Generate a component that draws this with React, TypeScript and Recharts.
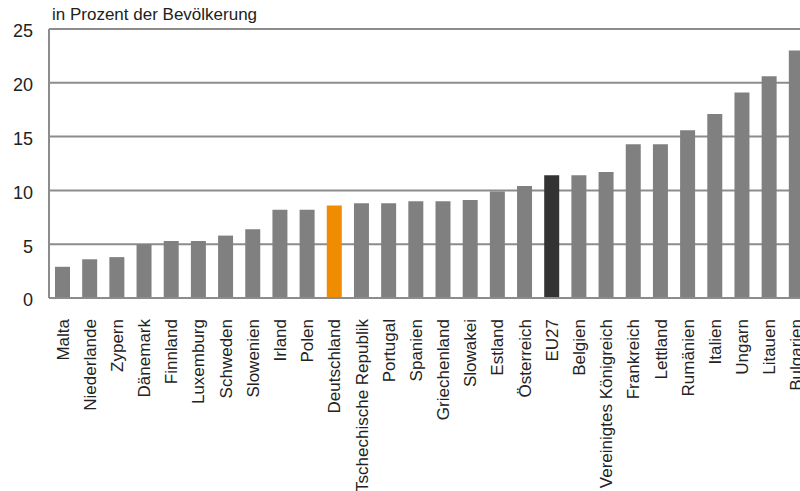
import React from "react";
import { BarChart, Bar, XAxis, YAxis, CartesianGrid, Cell } from "recharts";

const categories = [
  "Malta", "Niederlande", "Zypern", "Dänemark", "Finnland", "Luxemburg", "Schweden",
  "Slowenien", "Irland", "Polen", "Deutschland", "Tschechische Republik", "Portugal",
  "Spanien", "Griechenland", "Slowakei", "Estland", "Österreich", "EU27", "Belgien",
  "Vereinigtes Königreich", "Frankreich", "Lettland", "Rumänien", "Italien", "Ungarn",
  "Litauen", "Bulgarien",
];
const values = [
  2.9, 3.6, 3.8, 5.0, 5.3, 5.3, 5.8, 6.4, 8.2, 8.2, 8.6, 8.8, 8.8, 9.0, 9.0, 9.1, 9.9,
  10.4, 11.4, 11.4, 11.7, 14.3, 14.3, 15.6, 17.1, 19.1, 20.6, 23.0,
];
const yTicks = [0, 5, 10, 15, 20, 25];
const title = "in Prozent der Bevölkerung";

const data = categories.map((name, i) => ({ name, value: values[i] }));

const FONT = "'Liberation Sans', Arial, sans-serif";

const colorFor = (name: string) =>
  name === "Deutschland" ? "#F08C00" : name === "EU27" ? "#333333" : "#808080";

const XTick = (props: any) => {
  const { x, y, payload } = props;
  const tx = x + 6;
  const ty = y + 13;
  return (
    <text
      x={tx}
      y={ty}
      transform={`rotate(-90, ${tx}, ${ty})`}
      textAnchor="end"
      fontFamily={FONT}
      fontSize={17}
      fill="#222"
    >
      {payload.value}
    </text>
  );
};

const YTick = (props: any) => {
  const { y, payload } = props;
  return (
    <text
      x={33}
      y={y + 2}
      dy="0.355em"
      textAnchor="end"
      fontFamily={FONT}
      fontSize={18}
      fill="#222"
    >
      {payload.value}
    </text>
  );
};

export default function App() {
  return (
    <div
      style={{
        position: "absolute",
        left: 0,
        top: 0,
        width: 800,
        height: 491,
        overflow: "hidden",
        background: "#fff",
      }}
    >
      <div
        style={{
          position: "absolute",
          left: 52,
          top: 6,
          height: 18,
          overflow: "hidden",
          fontFamily: FONT,
          fontSize: 17,
          lineHeight: 1,
          color: "#222",
          whiteSpace: "nowrap",
        }}
      >
        {title}
      </div>
      <BarChart
        width={820}
        height={491}
        data={data}
        margin={{ top: 29, right: 10, bottom: 0, left: 0 }}
      >
        <CartesianGrid
          horizontal={true}
          vertical={false}
          stroke="#8c8c8c"
          strokeWidth={2}
        />
        <XAxis
          dataKey="name"
          interval={0}
          height={193}
          tickLine={false}
          axisLine={{ stroke: "#8c8c8c", strokeWidth: 2 }}
          tick={<XTick />}
        />
        <YAxis
          width={49}
          domain={[0, 25]}
          ticks={yTicks}
          tickLine={false}
          axisLine={{ stroke: "#8c8c8c", strokeWidth: 2 }}
          tick={<YTick />}
        />
        <Bar dataKey="value" barSize={15} isAnimationActive={false}>
          {data.map((d) => (
            <Cell key={d.name} fill={colorFor(d.name)} />
          ))}
        </Bar>
      </BarChart>
    </div>
  );
}
